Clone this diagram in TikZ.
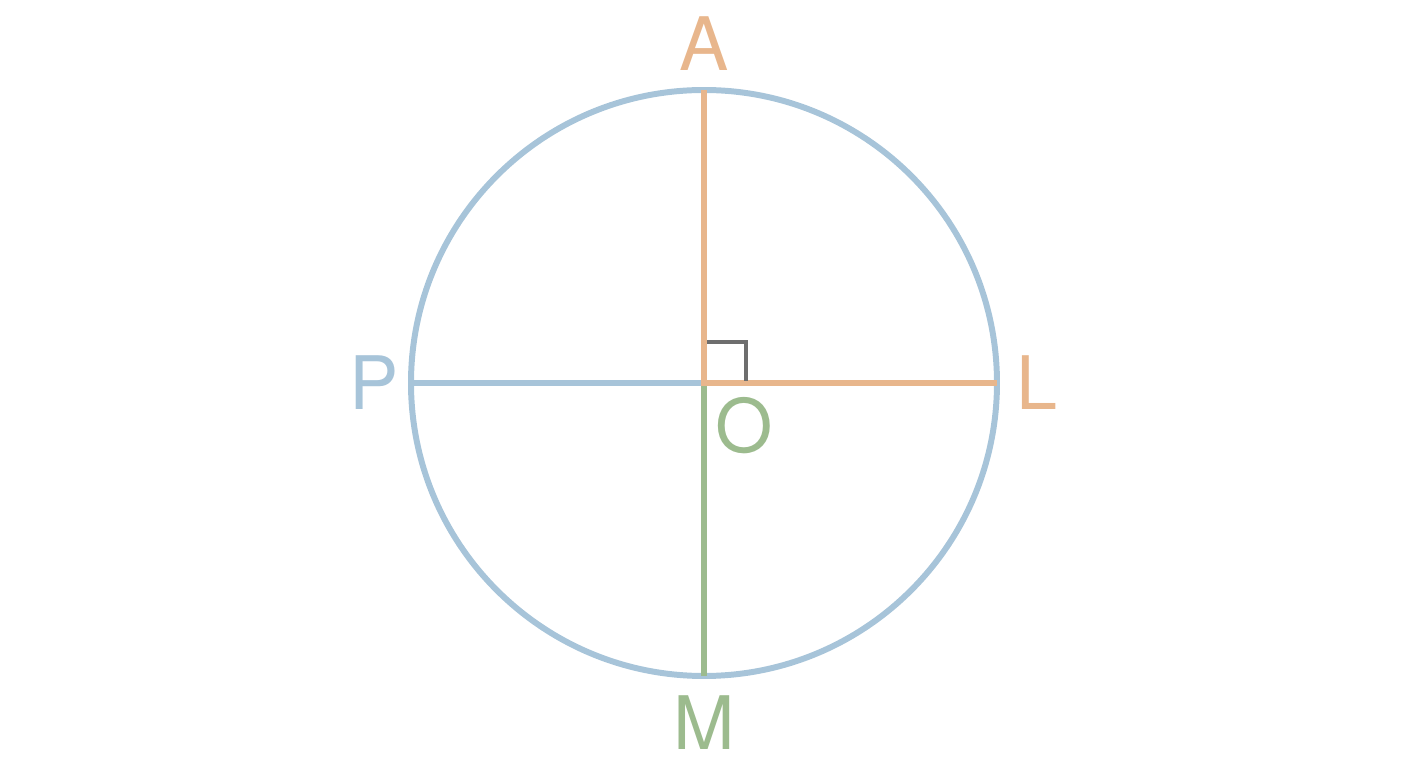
\documentclass[tikz,border=0pt]{standalone}
\usepackage{fontspec}
\setmainfont{TeX Gyre Heros}
\usetikzlibrary{positioning,calc}

\definecolor{cblue}{HTML}{A7C4D9}
\definecolor{corange}{HTML}{E8B68C}
\definecolor{cgreen}{HTML}{9CBB8E}
\definecolor{cgray}{HTML}{6E6E6E}

\begin{document}
\begin{tikzpicture}[every node/.style={inner sep=0pt,font=\fontsize{21}{25}\selectfont},line width=1.55pt]

\useasboundingbox (-7.04,-3.85) rectangle (7.04,3.83);

%\draw[color=black!30](-7,-3.8)grid(7,3.8);

\coordinate (O) at (0,0);
\foreach \n/\a in {L/0,A/90,P/180,M/270}
	\coordinate (\n) at (\a:2.93);

\draw[color=cblue,line width=1.7pt] (O) circle (2.93);
\draw[color=cblue] (P) -- (O);
\draw[color=cgreen] (O) -- (M);
\draw[color=corange] (A) -- (O) -- (L);

\draw[color=cgray,line width=1pt] (0.03,0.41) -- (0.42,0.41) -- (0.42,0.02);

\node[color=corange] (lA) at (0,3.39) {A};
\node[color=corange] (lL) at (3.33,0) {L};
\node[color=cblue] (lP) at (-3.295,0) {P};
\node[color=cgreen] (lM) at (0,-3.40) {M};
\node[color=cgreen] (lO) at (0.40,-0.43) {O};

\end{tikzpicture}
\end{document}
